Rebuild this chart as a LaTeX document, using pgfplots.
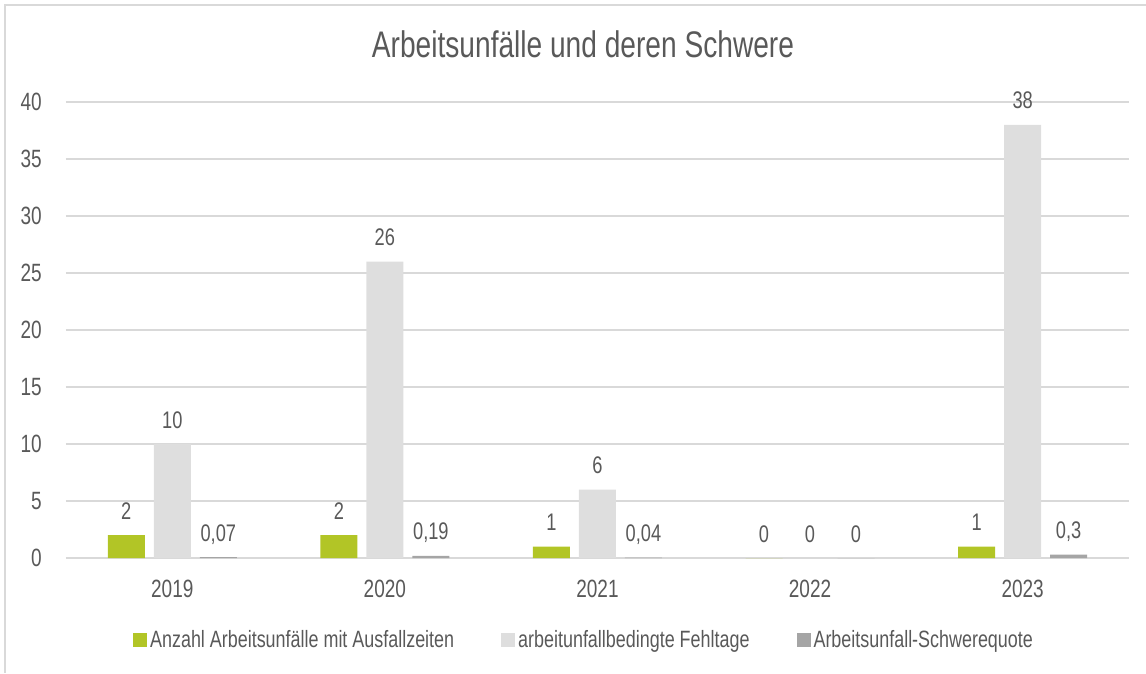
\documentclass[border=0pt]{standalone}
\usepackage{fontspec}
\setmainfont{Liberation Sans}[FakeStretch=0.76]
\usepackage{pgfplots}
\pgfplotsset{compat=1.18}
\usepackage{pgfplotstable}
\definecolor{cgreen}{HTML}{B2C526}
\definecolor{clight}{HTML}{DEDEDE}
\definecolor{cdark}{HTML}{A5A5A5}
\definecolor{cgrid}{HTML}{D9D9D9}
\definecolor{ctext}{HTML}{595959}

\pgfplotstableread{
x y lab
0 2 2
1 2 2
2 1 1
3 0 0
4 1 1
}\tA
\pgfplotstableread{
x y lab
0 10 10
1 26 26
2 6 6
3 0 0
4 38 38
}\tB
\pgfplotstableread{
x y lab
0 0.07 0,07
1 0.19 0,19
2 0.04 0,04
3 0 0
4 0.3 0,3
}\tC

\begin{document}
\begin{tikzpicture}[x=1pt,y=1pt]
\useasboundingbox (0,0) rectangle (1146,673);
\draw[cgrid, line width=1.5pt] (5,0) -- (5,668) -- (1146,668);
\node[anchor=base, text=ctext, font=\fontsize{37}{40}\selectfont, inner sep=0pt] at (583,615) {Arbeitsunfälle und deren Schwere};
\begin{axis}[
  at={(66pt,115pt)}, anchor=south west, scale only axis,
  width=1063pt, height=456pt,
  xmin=-0.5, xmax=4.5, ymin=0, ymax=40,
  ybar=9pt, bar width=37pt,
  xtick={0,1,2,3,4}, xticklabels={2019,2020,2021,2022,2023},
  ytick={0,5,...,40},
  ymajorgrids, major grid style={cgrid, line width=1.5pt},
  axis line style={draw=none}, major tick length=0pt,
  /pgf/number format/assume math mode=true,
  xticklabel style={anchor=base, yshift=-39pt, inner sep=0pt, text=ctext, font=\fontsize{25}{28}\selectfont},
  yticklabel style={anchor=base east, xshift=-24pt, yshift=-8.5pt, inner sep=0pt, text=ctext, font=\fontsize{25}{28}\selectfont},
  nodes near coords, point meta=explicit symbolic,
  nodes near coords style={anchor=base, yshift=16pt, inner sep=0pt, text=ctext, font=\fontsize{24}{26}\selectfont},
  every axis plot/.append style={legend image code/.code={\fill[#1, draw=none] (0pt,-7pt) rectangle (14pt,7pt);}},
  legend columns=3,
  legend style={at={(0.4864,-0.1798)}, anchor=center, draw=none, fill=none,
    font=\fontsize{23.6}{26}\selectfont, text=ctext,
    nodes={inner sep=0pt},
    /tikz/every odd column/.append style={column sep=3pt},
    /tikz/every even column/.append style={column sep=47pt}},
]
\addplot[fill=cgreen, draw=none] table[x=x, y=y, meta=lab] {\tA};
\addlegendentry{Anzahl Arbeitsunfälle mit Ausfallzeiten}
\addplot[fill=clight, draw=none] table[x=x, y=y, meta=lab] {\tB};
\addlegendentry{arbeitunfallbedingte Fehltage}
\addplot[fill=cdark, draw=none] table[x=x, y=y, meta=lab] {\tC};
\addlegendentry{Arbeitsunfall-Schwerequote}
\end{axis}
\end{tikzpicture}
\end{document}
